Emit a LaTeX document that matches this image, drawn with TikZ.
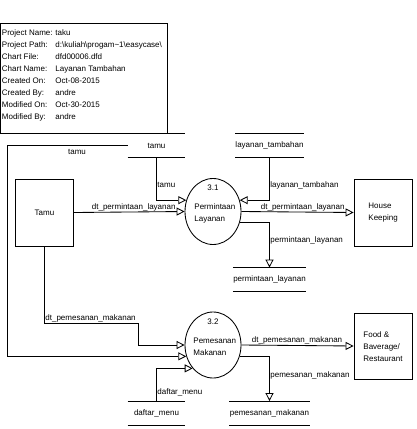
\documentclass[tikz,border=0pt]{standalone}
\usepackage{fontspec}
\setmainfont{Liberation Sans}
\usetikzlibrary{arrows.meta,shapes.geometric}
\begin{document}
\begin{tikzpicture}[x=1pt,y=-1pt,
  font=\fontsize{8}{12}\selectfont,
  line width=0.85pt,
  lbl/.style={inner sep=0.5pt, anchor=south west},
  txt/.style={inner sep=0pt, anchor=west},
  flow/.style={-{Triangle[length=8pt,width=8pt,fill=white]}},
  ent/.style={draw, minimum width=58pt, minimum height=67pt, inner sep=0pt},
  proc/.style={draw, ellipse, minimum width=56pt, minimum height=66pt, inner sep=0pt},
  store/.style={minimum width=57pt, minimum height=23pt, inner sep=0pt}]
\useasboundingbox (0,0) rectangle (417,429);

% info box
\node[draw, minimum width=166pt, minimum height=110pt, inner sep=0pt, anchor=north west] (info) at (0.5,23) {};
\draw[line width=1.4pt] (info.north east) -- (info.south east);
\node[txt] (k1) at (1.5,33) {Project Name:};   \node[txt] (v1) at (55,33) {taku};
\node[txt] (k2) at (1.5,45) {Project Path:};   \node[txt] (v2) at (55,45) {d:\textbackslash kuliah\textbackslash progam\textasciitilde 1\textbackslash easycase\textbackslash};
\node[txt] (k3) at (1.5,57) {Chart File:};     \node[txt] (v3) at (55,57) {dfd00006.dfd};
\node[txt] (k4) at (1.5,69) {Chart Name:};     \node[txt] (v4) at (55,69) {Layanan Tambahan};
\node[txt] (k5) at (1.5,81) {Created On:};     \node[txt] (v5) at (55,81) {Oct-08-2015};
\node[txt] (k6) at (1.5,93) {Created By:};     \node[txt] (v6) at (55,93) {andre};
\node[txt] (k7) at (1.5,105) {Modified On:};   \node[txt] (v7) at (55,105) {Oct-30-2015};
\node[txt] (k8) at (1.5,117) {Modified By:};   \node[txt] (v8) at (55,117) {andre};

% entities
\node[ent] (te) at (44.5,212.5) {Tamu};
\node[ent] (hk) at (383,212.5) {};
\node[txt, align=left] (hkt) at (368,213) {House\\Keeping};
\node[ent, minimum height=66pt] (fb) at (383,346) {};
\node[txt, align=left] (fbt) at (363,346.5) {Food \&\\Baverage/\\Restaurant};

% processes
\node[proc] (p31) at (213,211.5) {};
\node[inner sep=0pt] (n31) at (213,188) {3.1};
\node[txt, align=left] (t31) at (194,213) {Permintaan\\Layanan};
\node[proc] (p32) at (213,345) {};
\node[inner sep=0pt] (n32) at (213,322) {3.2};
\node[txt, align=left] (t32) at (193,346.5) {Pemesanan\\Makanan};

% data stores
\node[store] (ts) at (156.5,145.5) {tamu};
\node[store] (lt) at (269.5,145.5) {layanan\_tambahan};
\node[store] (pl) at (269.5,279.5) {permintaan\_layanan};
\node[store] (dm) at (156.5,413) {daftar\_menu};
\node[store] (pm) at (269.5,413) {pemesanan\_makanan};
\foreach \s in {ts,lt,pl,dm,pm}{
  \draw (\s.north west) -- (\s.north east);
  \draw (\s.south west) -- (\s.south east);
}

% flows into 3.1
\draw[flow] (ts.south) |- (p31.157);
\node[lbl, anchor=west] (l1) at (156.5,185) {tamu};
\draw[flow] (te.east) -- (p31.west);
\node[lbl] (l2) at (91,212.5) {dt\_permintaan\_layanan};
\draw[flow] (lt.south) |- (p31.23);
\node[lbl, anchor=west] (l3) at (269.5,185) {layanan\_tambahan};

% flows out of 3.1
\draw[flow] (p31.east) -- (hk.west);
\node[lbl] (l4) at (260,212) {dt\_permintaan\_layanan};
\draw[flow] (p31.-23) -| (pl.north);
\node[lbl, anchor=west] (l5) at (269.5,240) {permintaan\_layanan};

% flows into 3.2
\coordinate (lc) at (7,145.5);
\draw[flow] (ts.west) -- (lc) |- (p32.203);
\node[inner sep=0.5pt] (l6) at (77,152) {tamu};
\coordinate (c1) at (138,323);
\draw[flow] (te.south) |- (c1) |- (p32.west);
\node[lbl] (l7) at (44.5,323) {dt\_pemesanan\_makanan};
\draw[flow] (dm.north) |- (p32.229);
\node[lbl, anchor=west] (l8) at (156.5,392) {daftar\_menu};

% flows out of 3.2
\draw[flow] (p32.east) -- (fb.west);
\node[lbl] (l9) at (251,345) {dt\_pemesanan\_makanan};
\draw[flow] (p32.-23) -| (pm.north);
\node[lbl, anchor=west] (l10) at (269.5,375) {pemesanan\_makanan};
\end{tikzpicture}
\end{document}
